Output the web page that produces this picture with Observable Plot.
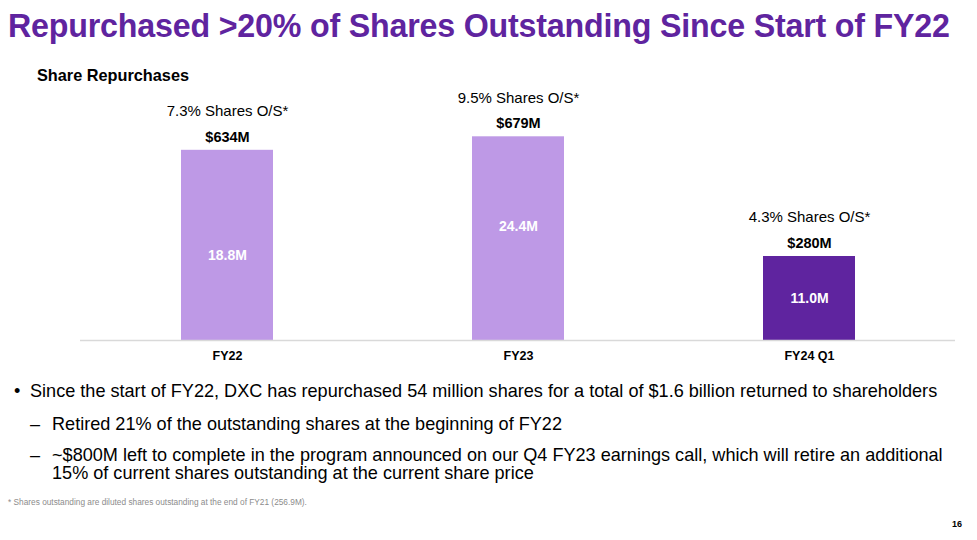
<!DOCTYPE html>
<html>
<head>
<meta charset="utf-8">
<script src="https://cdn.jsdelivr.net/npm/d3@7"></script>
<script src="https://cdn.jsdelivr.net/npm/@observablehq/plot@0.6"></script>
<style>
  html, body { margin: 0; padding: 0; background: #fff; }
  body { width: 977px; height: 540px; position: relative; overflow: hidden; font-family: "Liberation Sans", Arial, sans-serif; color: #000; }
  .title { position: absolute; left: 8px; top: 6px; font-family: "Liberation Sans", Arial, sans-serif; font-weight: bold; font-size: 34px; color: #5F249F; white-space: nowrap; transform: scaleX(0.947); transform-origin: 0 0; letter-spacing: -0.2px; }
  .sub { position: absolute; left: 37px; top: 66px; font-weight: bold; font-size: 16.3px; }
  #chart { position: absolute; left: 0; top: 60px; }
  .b { position: absolute; font-size: 18.1px; white-space: nowrap; line-height: 18px; }
  .foot { position: absolute; left: 8px; top: 497px; font-size: 8.3px; color: #8c8c8c; }
  .pg { position: absolute; left: 952px; top: 519px; font-size: 9px; font-weight: bold; }
</style>
</head>
<body>
<div class="title">Repurchased &gt;20% of Shares Outstanding Since Start of FY22</div>
<div class="sub">Share Repurchases</div>
<div id="chart"></div>
<div class="b" style="left:14px; top:382px;">•</div>
<div class="b" style="left:30px; top:382px;">Since the start of FY22, DXC has repurchased 54 million shares for a total of $1.6 billion returned to shareholders</div>
<div class="b" style="left:30px; top:415px;">–</div>
<div class="b" style="left:52px; top:415px;">Retired 21% of the outstanding shares at the beginning of FY22</div>
<div class="b" style="left:30px; top:446px;">–</div>
<div class="b" style="left:52px; top:446px;">~$800M left to complete in the program announced on our Q4 FY23 earnings call, which will retire an additional<br>15% of current shares outstanding at the current share price</div>
<div class="foot">* Shares outstanding are diluted shares outstanding at the end of FY21 (256.9M).</div>
<div class="pg">16</div>
<script>
const categories = ["FY22", "FY23", "FY24 Q1"];
const amountsM = [634, 679, 280];
const amountLabels = ["$634M", "$679M", "$280M"];
const sharesLabels = ["18.8M", "24.4M", "11.0M"];
const pctLabels = ["7.3% Shares O/S*", "9.5% Shares O/S*", "4.3% Shares O/S*"];

const data = categories.map((c, i) => ({
  cat: c, amount: amountsM[i], amountLabel: amountLabels[i],
  shares: sharesLabels[i], pct: pctLabels[i]
}));

// inner label vertical offsets (layout tweak matching the original slide)
const innerDy = [10, -12, 0];

const font = "Liberation Sans, Arial, sans-serif";
const chart = Plot.plot({
  width: 977,
  height: 315,
  marginLeft: 80,
  marginRight: 22,
  marginTop: 10,
  marginBottom: 35,
  style: { fontFamily: font, background: "transparent" },
  x: { domain: categories, paddingInner: 0.685, paddingOuter: 0.3425, axis: null },
  y: { domain: [0, 900], axis: null },
  color: { domain: categories, range: ["#BE99E6", "#BE99E6", "#5F249F"] },
  marks: [
    Plot.barY(data, { x: "cat", y: "amount", fill: "cat" }),
    Plot.ruleY([0], { stroke: "#d9d9d9", strokeWidth: 1.5 }),
    Plot.text(data, { x: "cat", y: "amount", text: "amountLabel", dy: -13, fontSize: 14.5, fontWeight: "bold", fill: "#000" }),
    Plot.text(data, { x: "cat", y: "amount", text: "pct", dy: -39, fontSize: 15, fill: "#000" }),
    ...data.map((d, i) => Plot.text([d], { x: "cat", y: dd => dd.amount / 2, text: "shares", dy: innerDy[i], fontSize: 14, fontWeight: "bold", fill: "#fff" })),
    Plot.text(data, { x: "cat", y: 0, text: "cat", dy: 15, fontSize: 12.5, fontWeight: "bold", fill: "#000" })
  ]
});
document.getElementById("chart").appendChild(chart);
</script>
</body>
</html>
